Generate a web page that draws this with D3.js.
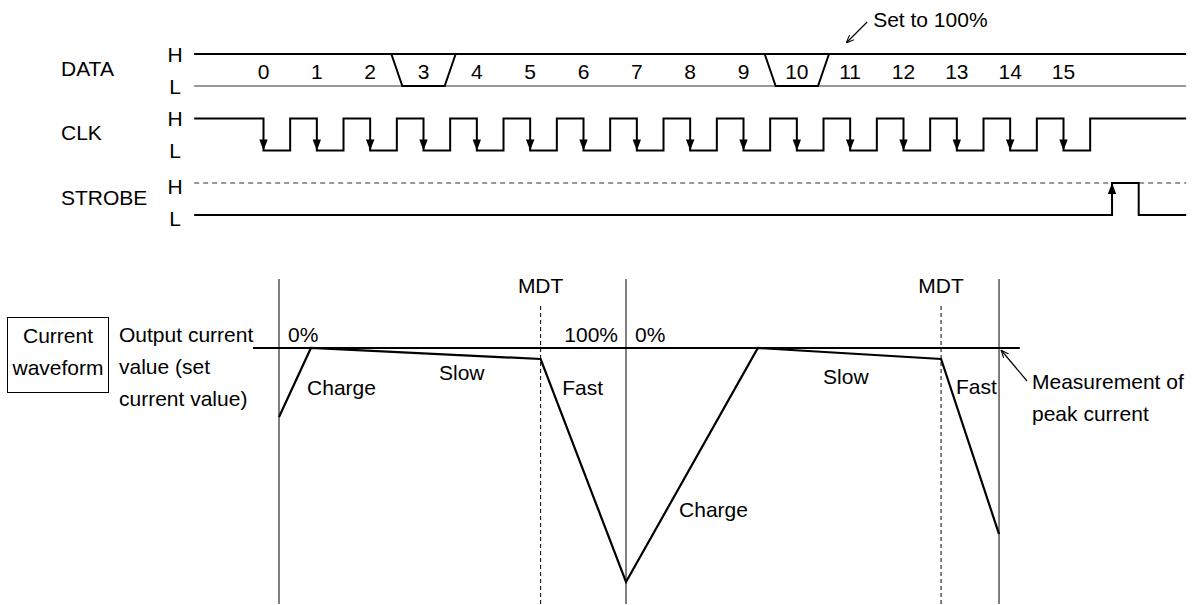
<!DOCTYPE html>
<html>
<head>
<meta charset="utf-8">
<script src="https://cdn.jsdelivr.net/npm/d3@7"></script>
<style>
  body { margin: 0; background: #fff; }
  svg text { font-family: "Liberation Sans", Arial, sans-serif; font-size: 21px; fill: #000; }
</style>
</head>
<body>
<svg class="chart" width="1194" height="605"></svg>
<script>
//------------------------------------------------------------------------------
//Data
//------------------------------------------------------------------------------
var signals = ["DATA", "CLK", "STROBE"];
var levels = ["H", "L"];
var bitLabels = ["0", "1", "2", "3", "4", "5", "6", "7", "8", "9", "10", "11", "12", "13", "14", "15"];
var lowBits = [3, 10];                 // bits sent as L
var strobePulse = [15.91, 16.41];      // strobe high, in bit times
var traceSpan = [-1.3, 17.3];          // start / end of the traces, in bit times
var setTo100Bit = 11;

// current waveform (time units, depth of current drop in %)
var waveTime = [0, 9.2, 75.4, 100, 138, 190.8, 207.5];
var waveDepth = [29.5, 0, 4.7, 100, 0, 4.7, 79.5];
var strobeTimes = [0, 100, 207.5];
var mdtTimes = [75.4, 190.8];
var segLabels = ["Charge", "Slow", "Fast", "Charge", "Slow", "Fast"];
var segLabelTime = [8.1, 46.1, 81.6, 115.3, 156.8, 195.1];
var segLabelDepth = [20.1, 13.7, 20.1, 72.2, 15.4, 19.7];
var levelLabels = ["0%", "100%", "0%"];

//------------------------------------------------------------------------------
//Main
//------------------------------------------------------------------------------
var svg = d3.select(".chart");
var defs = svg.append("defs");
defs.append("marker")
  .attr("id", "open")
  .attr("viewBox", "0 0 10 10")
  .attr("refX", 10).attr("refY", 5)
  .attr("markerUnits", "userSpaceOnUse")
  .attr("markerWidth", 8).attr("markerHeight", 8)
  .attr("orient", "auto")
  .append("path")
  .attr("d", "M0,1 L10,5 L0,9")
  .attr("fill", "none")
  .attr("stroke", "#000")
  .attr("stroke-width", 1.3);

timingDiagram();
currentWaveform();

//------------------------------------------------------------------------------
//Timing chart
//------------------------------------------------------------------------------
function timingDiagram() {
  var bitX = d3.scaleLinear().domain([0, 15]).range([263.5, 1063.5]);
  var rowY = d3.scalePoint().domain(signals).range([54, 183]);
  var gap = 32;
  var yH = function (s) { return rowY(s); };
  var yL = function (s) { return rowY(s) + gap; };
  var x0 = bitX(traceSpan[0]), x1 = bitX(traceSpan[1]);
  var line = d3.line();
  var g = svg.append("g");

  // signal names and H / L
  g.selectAll(".sig")
    .data(signals)
    .enter()
    .append("text")
    .attr("x", 61)
    .attr("y", function (d) { return (yH(d) + yL(d)) / 2 + 5.5; })
    .text(function (d) { return d; });

  signals.forEach(function (s) {
    g.selectAll(null)
      .data(levels)
      .enter()
      .append("text")
      .attr("x", 175)
      .attr("y", function (d) { return (d == "H" ? yH(s) : yL(s)) + 7.5 + (s == "STROBE" ? 3 : 0); })
      .attr("text-anchor", "middle")
      .text(function (d) { return d; });
  });

  // DATA
  g.append("line")
    .attr("x1", x0).attr("x2", x1)
    .attr("y1", yH("DATA")).attr("y2", yH("DATA"))
    .attr("stroke", "#000").attr("stroke-width", 2);
  g.append("line")
    .attr("x1", x0).attr("x2", x1)
    .attr("y1", yL("DATA")).attr("y2", yL("DATA"))
    .attr("stroke", "#333").attr("stroke-width", 1.2);

  var slant = 5.5;
  g.selectAll(".low")
    .data(lowBits)
    .enter()
    .append("path")
    .attr("fill", "none")
    .attr("stroke", "#000")
    .attr("stroke-width", 2)
    .attr("d", function (b) {
      var a = bitX(b - 0.5), c = bitX(b + 0.5);
      return line([[a - slant, yH("DATA")], [a + slant, yL("DATA")], [c - slant, yL("DATA")], [c + slant, yH("DATA")]]);
    });

  g.selectAll(".bit")
    .data(bitLabels)
    .enter()
    .append("text")
    .attr("x", function (d) { return bitX(+d); })
    .attr("y", yH("DATA") + 25)
    .attr("text-anchor", "middle")
    .text(function (d) { return d; });

  // "Set to 100%" note
  var tip = [bitX(setTo100Bit) - 4, yH("DATA") - 11];
  var tail = [tip[0] + 21, tip[1] - 21];
  g.append("line")
    .attr("x1", tail[0]).attr("y1", tail[1])
    .attr("x2", tip[0]).attr("y2", tip[1])
    .attr("stroke", "#000").attr("stroke-width", 1.2)
    .attr("marker-end", "url(#open)");
  g.append("text")
    .attr("x", tail[0] + 6)
    .attr("y", tail[1] + 5)
    .text("Set to 100%");

  // CLK
  var clkPts = [[x0, yH("CLK")]];
  bitLabels.forEach(function (d) {
    var b = +d;
    clkPts.push([bitX(b), yH("CLK")], [bitX(b), yL("CLK")], [bitX(b + 0.5), yL("CLK")], [bitX(b + 0.5), yH("CLK")]);
  });
  clkPts.push([x1, yH("CLK")]);
  g.append("path")
    .attr("d", line(clkPts))
    .attr("fill", "none")
    .attr("stroke", "#000")
    .attr("stroke-width", 2);

  g.selectAll(".clkArrow")
    .data(bitLabels)
    .enter()
    .append("path")
    .attr("d", function (d) {
      var x = bitX(+d), y = yL("CLK");
      return "M" + x + "," + y + "L" + (x - 4.2) + "," + (y - 11) + "L" + (x + 4.2) + "," + (y - 11) + "Z";
    })
    .attr("fill", "#000");

  // STROBE
  g.append("line")
    .attr("x1", x0).attr("x2", x1)
    .attr("y1", yH("STROBE")).attr("y2", yH("STROBE"))
    .attr("stroke", "#333").attr("stroke-width", 1.2)
    .attr("stroke-dasharray", "5,4");

  var sa = bitX(strobePulse[0]), sb = bitX(strobePulse[1]);
  g.append("path")
    .attr("d", line([[x0, yL("STROBE")], [sa, yL("STROBE")], [sa, yH("STROBE")], [sb, yH("STROBE")], [sb, yL("STROBE")], [x1, yL("STROBE")]]))
    .attr("fill", "none")
    .attr("stroke", "#000")
    .attr("stroke-width", 2);
  g.append("path")
    .attr("d", "M" + sa + "," + yH("STROBE") + "L" + (sa - 4.2) + "," + (yH("STROBE") + 11) + "L" + (sa + 4.2) + "," + (yH("STROBE") + 11) + "Z")
    .attr("fill", "#000");
}

//------------------------------------------------------------------------------
//Current waveform
//------------------------------------------------------------------------------
function currentWaveform() {
  var tX = d3.scaleLinear().domain([0, 100]).range([279, 626]);
  var dY = d3.scaleLinear().domain([0, 100]).range([348, 582]);
  var top = 279, bottom = 604;
  var g = svg.append("g");

  // box
  g.append("rect")
    .attr("x", 7.5).attr("y", 317.5)
    .attr("width", 101).attr("height", 75)
    .attr("fill", "none")
    .attr("stroke", "#000").attr("stroke-width", 1);
  g.append("text").attr("x", 58).attr("y", 343).attr("text-anchor", "middle").text("Current");
  g.append("text").attr("x", 58).attr("y", 375).attr("text-anchor", "middle").text("waveform");

  var desc = ["Output current", "value (set", "current value)"];
  g.selectAll(".desc")
    .data(desc)
    .enter()
    .append("text")
    .attr("x", 119)
    .attr("y", function (d, i) { return 342 + i * 32; })
    .text(function (d) { return d; });

  // verticals
  g.selectAll(".vs")
    .data(strobeTimes)
    .enter()
    .append("line")
    .attr("x1", function (d) { return tX(d); })
    .attr("x2", function (d) { return tX(d); })
    .attr("y1", top).attr("y2", bottom)
    .attr("stroke", "#000").attr("stroke-width", 1);

  g.selectAll(".vm")
    .data(mdtTimes)
    .enter()
    .append("line")
    .attr("x1", function (d) { return tX(d); })
    .attr("x2", function (d) { return tX(d); })
    .attr("y1", 306).attr("y2", bottom)
    .attr("stroke", "#000").attr("stroke-width", 1)
    .attr("stroke-dasharray", "4,3");

  g.selectAll(".mdt")
    .data(mdtTimes)
    .enter()
    .append("text")
    .attr("x", function (d) { return tX(d); })
    .attr("y", 293)
    .attr("text-anchor", "middle")
    .text("MDT");

  // zero line
  g.append("line")
    .attr("x1", tX(-7.5)).attr("x2", tX(213.5))
    .attr("y1", dY(0)).attr("y2", dY(0))
    .attr("stroke", "#000").attr("stroke-width", 2);

  // waveform
  var pts = waveTime.map(function (t, i) { return [tX(t), dY(waveDepth[i])]; });
  g.append("path")
    .attr("d", d3.line()(pts))
    .attr("fill", "none")
    .attr("stroke", "#000")
    .attr("stroke-width", 2.2);

  // level labels
  g.append("text").attr("x", tX(strobeTimes[0]) + 9).attr("y", 342).text(levelLabels[0]);
  g.append("text").attr("x", tX(strobeTimes[1]) - 8).attr("y", 342).attr("text-anchor", "end").text(levelLabels[1]);
  g.append("text").attr("x", tX(strobeTimes[1]) + 9).attr("y", 342).text(levelLabels[2]);

  // segment labels
  g.selectAll(".seg")
    .data(segLabels)
    .enter()
    .append("text")
    .attr("x", function (d, i) { return tX(segLabelTime[i]); })
    .attr("y", function (d, i) { return dY(segLabelDepth[i]); })
    .text(function (d) { return d; });

  // peak current note
  var tip = [tX(strobeTimes[2]) + 2, dY(0) + 2];
  var tail = [tip[0] + 26, tip[1] + 31];
  g.append("line")
    .attr("x1", tail[0]).attr("y1", tail[1])
    .attr("x2", tip[0]).attr("y2", tip[1])
    .attr("stroke", "#000").attr("stroke-width", 1.2)
    .attr("marker-end", "url(#open)");
  g.append("text").attr("x", tip[0] + 31).attr("y", 389).text("Measurement of");
  g.append("text").attr("x", tip[0] + 31).attr("y", 421).text("peak current");
}
</script>
</body>
</html>
